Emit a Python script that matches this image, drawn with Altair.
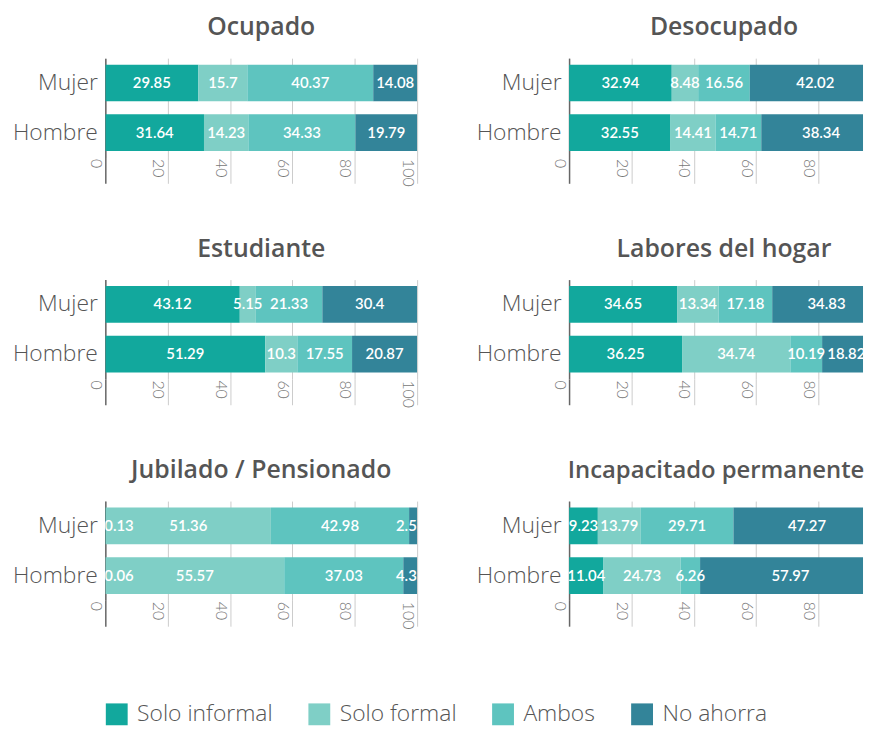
import altair as alt
import pandas as pd

estados = ["Ocupado", "Desocupado", "Estudiante", "Labores del hogar",
           "Jubilado / Pensionado", "Incapacitado permanente"]
sexos = ["Mujer", "Hombre"]
categorias = ["Solo informal", "Solo formal", "Ambos", "No ahorra"]
colores = ["#12a89d", "#7fcfc6", "#5ec4bf", "#338499"]

ocupado_mujer = [29.85, 15.7, 40.37, 14.08]
ocupado_hombre = [31.64, 14.23, 34.33, 19.79]
desocupado_mujer = [32.94, 8.48, 16.56, 42.02]
desocupado_hombre = [32.55, 14.41, 14.71, 38.34]
estudiante_mujer = [43.12, 5.15, 21.33, 30.4]
estudiante_hombre = [51.29, 10.3, 17.55, 20.87]
hogar_mujer = [34.65, 13.34, 17.18, 34.83]
hogar_hombre = [36.25, 34.74, 10.19, 18.82]
jubilado_mujer = [0.13, 51.36, 42.98, 2.5]
jubilado_hombre = [0.06, 55.57, 37.03, 4.3]
incapacitado_mujer = [9.23, 13.79, 29.71, 47.27]
incapacitado_hombre = [11.04, 24.73, 6.26, 57.97]

series = {
    "Ocupado": (ocupado_mujer, ocupado_hombre),
    "Desocupado": (desocupado_mujer, desocupado_hombre),
    "Estudiante": (estudiante_mujer, estudiante_hombre),
    "Labores del hogar": (hogar_mujer, hogar_hombre),
    "Jubilado / Pensionado": (jubilado_mujer, jubilado_hombre),
    "Incapacitado permanente": (incapacitado_mujer, incapacitado_hombre),
}

rows = []
for est in estados:
    for sexo, vals in zip(sexos, series[est]):
        for i, (cat, v) in enumerate(zip(categorias, vals)):
            rows.append({"estado": est, "sexo": sexo, "categoria": cat,
                         "orden": i, "valor": v})
df = pd.DataFrame(rows)

FONT = "Lato"
FONT2 = "Open Sans"
TXT = "#555555"

color_scale = alt.Scale(domain=categorias, range=colores)


def panel(est, right=False, show_legend=False, title_size=25):
    # the right column runs past the page edge in the original: show the visible part
    xmax = 94.3 if right else 100
    width = 296 if right else 314
    base = (
        alt.Chart(df)
        .transform_filter(alt.datum.estado == est)
        .transform_joinaggregate(total="sum(valor)", groupby=["sexo"])
        .transform_window(cum="sum(valor)", sort=[alt.SortField("orden")],
                          groupby=["sexo"], frame=[None, 0])
        .transform_calculate(
            x0="(datum.cum - datum.valor) / datum.total * 100",
            x1="datum.cum / datum.total * 100",
            lbl="toString(datum.valor)",
        )
        .transform_calculate(
            mid="(datum.x0 + datum.x1) / 2",
            hw="length(datum.lbl) * 0.95 + 0.6",
        )
        .transform_calculate(
            xl=f"clamp(datum.mid, datum.hw, {xmax} - datum.hw)",
        )
    )
    yenc = alt.Y("sexo:N", sort=sexos, title=None,
                 scale=alt.Scale(paddingInner=0.26, paddingOuter=0.13),
                 axis=alt.Axis(labelFontSize=23, labelColor=TXT, labelFont=FONT2,
                               labelFontWeight=300, ticks=False, domainColor="#666666",
                               domainWidth=1.5, labelPadding=8))
    legend = alt.Legend(title=None, orient="none", direction="horizontal",
                        legendX=0, legendY=649, symbolType="square",
                        symbolSize=484, symbolStrokeWidth=0, labelFontSize=23,
                        labelFont=FONT2, labelColor=TXT, labelFontWeight=300,
                        labelOffset=9, columnPadding=35, symbolOpacity=1) if show_legend else None
    bars = base.mark_bar(clip=True).encode(
        x=alt.X("x0:Q", title=None,
                scale=alt.Scale(domain=[0, xmax], nice=False, zero=True),
                axis=alt.Axis(values=[0, 20, 40, 60, 80, 100] if not right else [0, 20, 40, 60, 80],
                              grid=True,
                              gridColor="#cccccc", domain=False, tickSize=26,
                              tickColor=alt.ExprRef("datum.value == 0 ? '#666666' : '#cccccc'"),
                              tickWidth=alt.ExprRef("datum.value == 0 ? 1.5 : 1"),
                              labelAngle=90, labelAlign="left", labelBaseline="top",
                              labelPadding=-25, labelFontSize=16, labelColor="#777777",
                              labelFont=FONT, labelFontWeight=300, labelOffset=-2)),
        x2="x1:Q",
        y=yenc,
        color=alt.Color("categoria:N", scale=color_scale, sort=categorias,
                        legend=legend),
    )
    text = base.mark_text(color="white", fontSize=15, font=FONT,
                          fontWeight=600, clip=True).encode(
        x="xl:Q",
        y=alt.Y("sexo:N", sort=sexos),
        text="lbl:N",
    )
    return alt.layer(bars, text).properties(
        width=width, height=100,
        title=alt.TitleParams(est, fontSize=title_size, font=FONT2, fontWeight=600,
                              color=TXT, offset=11, dy=-7, anchor="middle",
                              dx=8 if (right and title_size == 25) else 0),
    )


r1 = alt.hconcat(panel(estados[0], show_legend=True), panel(estados[1], right=True), spacing=58)
r2 = alt.hconcat(panel(estados[2]), panel(estados[3], right=True), spacing=58)
r3 = alt.hconcat(panel(estados[4]), panel(estados[5], right=True, title_size=24), spacing=58)
chart = (
    alt.vconcat(r1, r2, r3, spacing=51)
    .resolve_scale(color="shared", x="independent")
    .properties(padding={"left": 4, "top": 5, "right": 0, "bottom": 0})
    .configure_view(stroke=None)
)

chart.save("out.html", embed_options={"renderer": "svg", "actions": False})
